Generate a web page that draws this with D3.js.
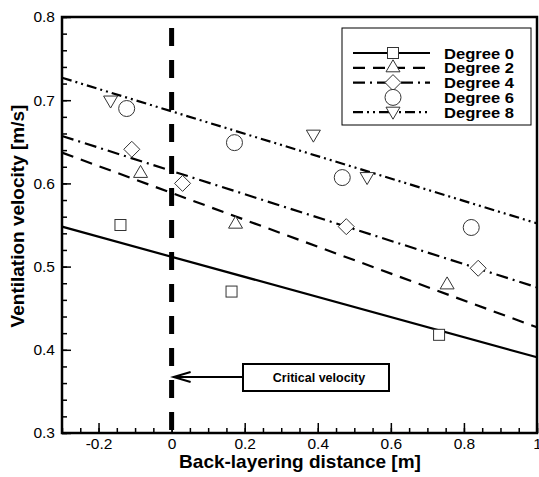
<!DOCTYPE html>
<meta charset="utf-8">
<style>
  body { margin: 0; background: #fff; }
  text { font-family: "Liberation Sans", Arial, sans-serif; }
</style>
<div id="chart"></div>
<script src="https://d3js.org/d3.v7.min.js"></script>
<script>

var x0 = [-0.14, 0.164, 0.732], v0 = [0.55, 0.47, 0.418]
var x2 = [-0.085, 0.175, 0.754], v2 = [0.612, 0.551, 0.478]
var x4 = [-0.109, 0.03, 0.478, 0.839], v4 = [0.641, 0.6, 0.548, 0.498]
var x6 = [-0.123, 0.172, 0.467, 0.82], v6 = [0.69, 0.649, 0.607, 0.547]
var x8 = [-0.167, 0.388, 0.535], v8 = [0.699, 0.658, 0.607]

// fitted lines: values at x = -0.3 and x = 1
var fitX = [-0.3, 1]
var fit0 = [0.548, 0.391]
var fit2 = [0.637, 0.427]
var fit4 = [0.657, 0.475]
var fit8 = [0.727, 0.552]

var legendLabels = ["Degree 0", "Degree 2", "Degree 4", "Degree 6", "Degree 8"]
var xTicks = [-0.2, 0, 0.2, 0.4, 0.6, 0.8, 1]
var yTicks = [0.3, 0.4, 0.5, 0.6, 0.7, 0.8]

var width = 539, height = 477
var margin = {left: 62, top: 17, right: 2, bottom: 44}

var svg = d3.select("#chart").append("svg")
  .attr("width", width)
  .attr("height", height)

var x = d3.scaleLinear().domain([-0.3, 1]).range([margin.left, width - margin.right])
var y = d3.scaleLinear().domain([0.3, 0.8]).range([height - margin.bottom, margin.top])

var fmt = function(d) { return String(+d.toFixed(1)) }

// minor ticks
svg.append("g")
  .attr("transform", "translate(" + margin.left + ",0)")
  .call(d3.axisLeft(y).tickValues(d3.range(0.3, 0.801, 0.02)).tickSize(-5).tickFormat(""))
svg.append("g")
  .attr("transform", "translate(0," + y(0.3) + ")")
  .call(d3.axisBottom(x).tickValues(d3.range(-0.3, 1.001, 0.05)).tickSize(-5).tickFormat(""))

// major ticks
svg.append("g")
  .attr("transform", "translate(" + margin.left + ",0)")
  .call(d3.axisLeft(y).tickValues(yTicks).tickSize(-9).tickPadding(7).tickFormat(fmt))
svg.append("g")
  .attr("transform", "translate(0," + y(0.3) + ")")
  .call(d3.axisBottom(x).tickValues(xTicks).tickSize(-10).tickPadding(5).tickFormat(fmt))

svg.selectAll(".domain").remove()
svg.selectAll(".tick line").attr("stroke", "#000").attr("stroke-width", 1.5)
svg.selectAll(".tick text").attr("font-size", 15.5).attr("fill", "#000")
  .style("font-family", "'Liberation Sans', Arial, sans-serif")

// frame
svg.append("rect")
  .attr("x", x(-0.3)).attr("y", y(0.8))
  .attr("width", x(1) - x(-0.3)).attr("height", y(0.3) - y(0.8))
  .attr("fill", "none").attr("stroke", "#000").attr("stroke-width", 2.5)

// fitted lines
var lineStyles = [
  {fit: fit0, dash: null},
  {fit: fit2, dash: "12,8"},
  {fit: fit4, dash: "12,5,2,5"},
  {fit: fit8, dash: "10,4,2,4,2,4"}
]
var line = d3.line().x(function(d) { return x(d[0]) }).y(function(d) { return y(d[1]) })
lineStyles.forEach(function(s) {
  svg.append("path")
    .datum(d3.zip(fitX, s.fit))
    .attr("d", line)
    .attr("fill", "none")
    .attr("stroke", "#000")
    .attr("stroke-width", 2.2)
    .attr("stroke-dasharray", s.dash)
})

// critical velocity line
svg.append("line")
  .attr("x1", x(0)).attr("x2", x(0))
  .attr("y1", 28).attr("y2", y(0.3))
  .attr("stroke", "#000").attr("stroke-width", 5)
  .attr("stroke-dasharray", "18,14")

// markers
var symbols = {
  square: function(g) { g.append("rect").attr("x", -5.5).attr("y", -5.5).attr("width", 11).attr("height", 11) },
  triangle: function(g) { g.append("path").attr("d", "M0,-8L7,4L-7,4Z") },
  diamond: function(g) { g.append("path").attr("d", "M0,-8L8,0L0,8L-8,0Z") },
  circle: function(g) { g.append("circle").attr("r", 8) },
  tridown: function(g) { g.append("path").attr("d", "M-7,-5L7,-5L0,7Z") }
}
var series = [
  {xs: x0, vs: v0, sym: "square"},
  {xs: x2, vs: v2, sym: "triangle"},
  {xs: x4, vs: v4, sym: "diamond"},
  {xs: x6, vs: v6, sym: "circle"},
  {xs: x8, vs: v8, sym: "tridown"}
]
function drawMarker(cx, cy, sym) {
  var g = svg.append("g").attr("transform", "translate(" + cx + "," + cy + ")")
  symbols[sym](g)
  g.selectAll("*").attr("fill", "#fff").attr("stroke", "#333").attr("stroke-width", 1)
}
series.forEach(function(s) {
  s.xs.forEach(function(xv, i) { drawMarker(x(xv), y(s.vs[i]), s.sym) })
})

// legend
var legend = svg.append("g")
legend.append("rect")
  .attr("x", 342).attr("y", 28).attr("width", 189).attr("height", 97)
  .attr("fill", "#fff").attr("stroke", "#000").attr("stroke-width", 1)
var legendDash = [null, "12,8", "12,5,2,5", null, "10,4,2,4,2,4"]
legendLabels.forEach(function(lbl, i) {
  var ly = 53 + i * 14.8
  if (i !== 3) {
    legend.append("line")
      .attr("x1", 353).attr("x2", 430).attr("y1", ly).attr("y2", ly)
      .attr("stroke", "#000").attr("stroke-width", 2.2)
      .attr("stroke-dasharray", legendDash[i])
  }
  drawMarker(393, ly, series[i].sym)
  legend.append("text")
    .attr("x", 444).attr("y", ly + 5.5)
    .attr("font-size", 15).attr("font-weight", "bold")
    .attr("textLength", 70).attr("lengthAdjust", "spacingAndGlyphs")
    .text(lbl)
})

// annotation
svg.append("rect")
  .attr("x", 243).attr("y", 364).attr("width", 146).attr("height", 27)
  .attr("fill", "#fff").attr("stroke", "#000").attr("stroke-width", 2)
svg.append("text")
  .attr("x", 319).attr("y", 382)
  .attr("text-anchor", "middle")
  .attr("font-size", 12.5).attr("font-weight", "bold")
  .text("Critical velocity")
svg.append("line")
  .attr("x1", 243).attr("x2", x(0) + 2).attr("y1", 377).attr("y2", 377)
  .attr("stroke", "#000").attr("stroke-width", 2)
svg.append("path")
  .attr("d", "M" + (x(0) + 19) + ",372L" + (x(0) + 2) + ",377L" + (x(0) + 19) + ",382")
  .attr("fill", "none").attr("stroke", "#000").attr("stroke-width", 2)

// axis titles
svg.append("text")
  .attr("x", 300).attr("y", 468)
  .attr("text-anchor", "middle")
  .attr("font-size", 19).attr("font-weight", "bold")
  .text("Back-layering distance [m]")
svg.append("text")
  .attr("transform", "translate(24,216) rotate(-90)")
  .attr("text-anchor", "middle")
  .attr("font-size", 19).attr("font-weight", "bold")
  .text("Ventilation velocity [m/s]")

</script>
